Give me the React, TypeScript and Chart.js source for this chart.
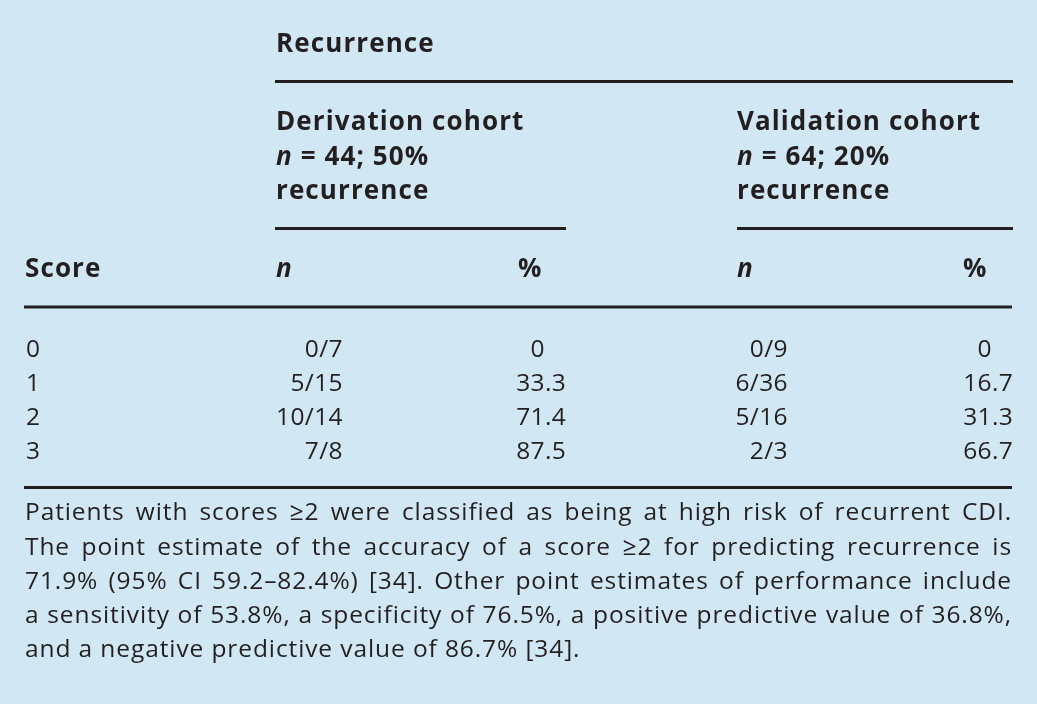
import React, { useEffect, useRef } from 'react';
import { Chart, registerables } from 'chart.js';

Chart.register(...registerables);

// ---- data ----
const groupTitle = 'Recurrence';
const cohortTitles = ['Derivation cohort', 'Validation cohort'];
const cohortN = [44, 64];
const cohortRecurrence = ['50%', '20%'];
const scores = ['0', '1', '2', '3'];
const derivationN = ['0/7', '5/15', '10/14', '7/8'];
const derivationPct = [0, 33.3, 71.4, 87.5];
const validationN = ['0/9', '6/36', '5/16', '2/3'];
const validationPct = [0, 16.7, 31.3, 66.7];
const footnoteLines = [
  'Patients with scores \u22652 were classified as being at high risk of recurrent CDI.',
  'The point estimate of the accuracy of a score \u22652 for predicting recurrence is',
  '71.9% (95% CI 59.2\u201382.4%) [34]. Other point estimates of performance include',
  'a sensitivity of 53.8%, a specificity of 76.5%, a positive predictive value of 36.8%,',
  'and a negative predictive value of 86.7% [34].',
];

// ---- layout / style ----
const W = 1037;
const H = 704;
const BG = '#d1e8f4';
const INK = '#231f20';
const FAMILY = '"Open Sans", Lato, "DejaVu Sans", sans-serif';
const HEAD_SIZE = 26;
const BODY_SIZE = 24.5;
const HEAD_SPACING = '1.1px';
const BODY_SPACING = '0.4px';
const NOTE_SPACING = '0.9px';
const bold = `bold ${HEAD_SIZE}px ${FAMILY}`;
const boldItalic = `italic bold ${HEAD_SIZE}px ${FAMILY}`;
const regular = `${BODY_SIZE}px ${FAMILY}`;

const fmtPct = (v: number) => (v === 0 ? '0' : v.toFixed(1));

export default function App() {
  const ref = useRef<HTMLCanvasElement>(null);

  useEffect(() => {
    document.body.style.margin = '0';
    document.body.style.background = BG;

    const tablePlugin = {
      id: 'tablePlugin',
      beforeDraw(chart: any) {
        const ctx = chart.ctx as CanvasRenderingContext2D;
        ctx.save();
        ctx.fillStyle = BG;
        ctx.fillRect(0, 0, chart.width, chart.height);
        ctx.restore();
      },
      afterDraw(chart: any) {
        const ctx = chart.ctx as any;
        const X = (v: number) => chart.scales.x.getPixelForValue(v);
        const Y = (v: number) => chart.scales.y.getPixelForValue(v);
        ctx.save();
        ctx.fillStyle = INK;
        ctx.strokeStyle = INK;
        ctx.textBaseline = 'alphabetic';

        const setFont = (font: string) => {
          ctx.font = font;
          ctx.letterSpacing = font === regular ? BODY_SPACING : HEAD_SPACING;
        };
        const rule = (x1: number, x2: number, y: number) => {
          ctx.lineWidth = 3;
          ctx.beginPath();
          ctx.moveTo(X(x1), Y(y));
          ctx.lineTo(X(x2), Y(y));
          ctx.stroke();
        };
        const text = (s: string, x: number, y: number, font: string, align: CanvasTextAlign = 'left') => {
          setFont(font);
          ctx.textAlign = align;
          ctx.fillText(s, X(x), Y(y));
        };
        const runs = (parts: [string, string][], x: number, y: number) => {
          let cx = X(x);
          ctx.textAlign = 'left';
          for (const [s, f] of parts) {
            setFont(f);
            ctx.fillText(s, cx, Y(y));
            cx += ctx.measureText(s).width;
          }
        };
        const decimal = (v: number, x: number, y: number) => {
          const s = fmtPct(v);
          const i = s.indexOf('.');
          const intPart = i < 0 ? s : s.slice(0, i);
          const frac = i < 0 ? '' : s.slice(i);
          text(intPart, x, y, regular, 'right');
          if (frac) text(frac, x, y, regular, 'left');
        };

        // header
        text(groupTitle, 276, 52, bold);
        rule(275, 1013, 81.5);
        const cohortX = [276, 737];
        cohortTitles.forEach((t, k) => {
          const x = cohortX[k];
          text(t, x, 130, bold);
          runs([['n', boldItalic], [` = ${cohortN[k]}; ${cohortRecurrence[k]}`, bold]], x, 165);
          text('recurrence', x, 199, bold);
        });
        rule(275, 566, 228.5);
        rule(737, 1013, 228.5);

        text('Score', 25, 277, bold);
        text('n', 276, 277, boldItalic);
        text('%', 518, 277, bold);
        text('n', 737, 277, boldItalic);
        text('%', 963, 277, bold);
        rule(24, 1012, 307);

        // body rows
        const rowY = [357, 391, 425, 459];
        scores.forEach((s, r) => {
          const y = rowY[r];
          text(s, 26, y, regular);
          text(derivationN[r], 343, y, regular, 'right');
          decimal(derivationPct[r], 545, y);
          text(validationN[r], 788, y, regular, 'right');
          decimal(validationPct[r], 992, y);
        });
        rule(24, 1012, 487.5);

        // footnote (justified)
        const left = 25;
        const right = 1012;
        const lineY = [520, 555, 589, 623, 657];
        ctx.font = regular;
        ctx.letterSpacing = NOTE_SPACING;
        ctx.textAlign = 'left';
        footnoteLines.forEach((line, i) => {
          const y = lineY[i];
          if (i === footnoteLines.length - 1) {
            ctx.fillText(line, X(left), Y(y));
            return;
          }
          const words = line.split(' ');
          const widths = words.map((w) => ctx.measureText(w).width);
          const total = widths.reduce((a, b) => a + b, 0);
          const gap = (X(right) - X(left) - total) / (words.length - 1);
          let cx = X(left);
          words.forEach((w, j) => {
            ctx.fillText(w, cx, Y(y));
            cx += widths[j] + gap;
          });
        });

        ctx.restore();
      },
    };

    const chart = new Chart(ref.current as HTMLCanvasElement, {
      type: 'scatter',
      data: { datasets: [] },
      options: {
        animation: false,
        responsive: false,
        maintainAspectRatio: false,
        layout: { padding: 0 },
        plugins: { legend: { display: false }, tooltip: { enabled: false } },
        scales: {
          x: { type: 'linear', display: false, min: 0, max: W },
          y: { type: 'linear', display: false, min: 0, max: H, reverse: true },
        },
      },
      plugins: [tablePlugin],
    });
    return () => chart.destroy();
  }, []);

  return (
    <div style={{ width: W, height: H }}>
      <canvas ref={ref} width={W} height={H} style={{ display: 'block' }} />
    </div>
  );
}
